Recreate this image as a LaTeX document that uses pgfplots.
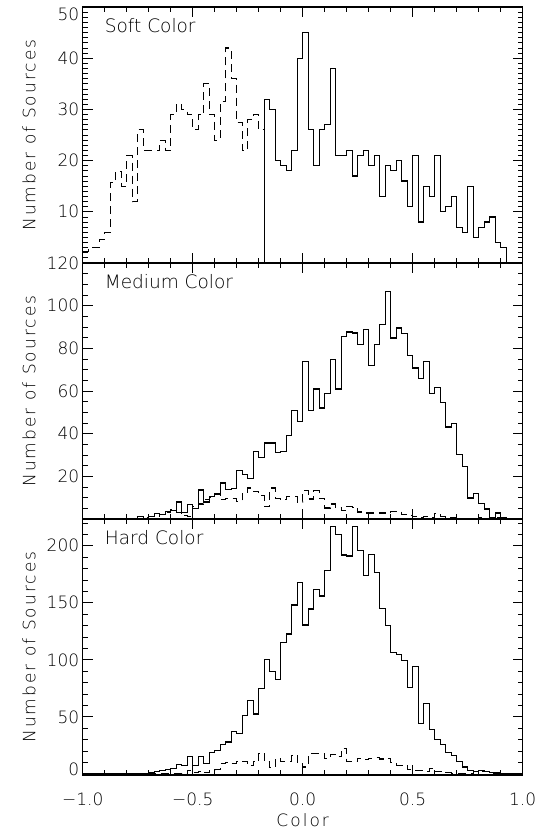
\documentclass[border=0pt]{standalone}
\usepackage{fontspec}
\setmainfont{DejaVu Sans ExtraLight}
\usepackage{pgfplots}
\usepackage{pgfplotstable}
\pgfplotsset{compat=1.18}

% medium colour: bin left edge, all sources, second sample
\pgfplotstableread{
x solid dashed
-1 0 0
-0.975 0 0
-0.95 0 0
-0.925 0 0
-0.9 0 0
-0.875 0 0
-0.85 0 0
-0.825 0 0
-0.8 0 0
-0.775 0 0
-0.75 1 0
-0.725 0 0.5
-0.7 1 1
-0.675 2.5 1
-0.65 2 2
-0.625 3.6 3
-0.6 4 4.4
-0.575 8 3
-0.55 3 1.6
-0.525 6.7 1
-0.5 5 6
-0.475 13.6 7
-0.45 8 9
-0.425 10.6 10
-0.4 11.7 11.4
-0.375 16.9 9
-0.35 13.8 9.5
-0.325 14.3 9.5
-0.3 22.7 8.3
-0.275 20.9 11.9
-0.25 18.9 14.5
-0.225 31.7 13
-0.2 29 11
-0.175 35.6 5.9
-0.15 35.6 14.5
-0.125 31 9.5
-0.1 31.8 9
-0.075 39.1 10.6
-0.05 50.8 10.6
-0.025 45.8 8
0 73.9 13.3
0.025 50.8 9.4
0.05 60.9 13.3
0.075 52 9.5
0.1 58.75 5.2
0.125 74.7 7
0.15 60.9 5.2
0.175 85.6 3.9
0.2 87.7 5.9
0.225 87.2 5.5
0.25 81.7 3.3
0.275 88.75 2.8
0.3 71.9 2.8
0.325 81.7 2.8
0.35 91.1 2.8
0.375 106.7 2.5
0.4 84.8 3.6
0.425 89.5 3.6
0.45 86.9 2
0.475 76.6 1.7
0.5 70.8 1
0.525 65.8 0.5
0.55 73.9 1
0.575 58.75 0.5
0.6 61.7 2.5
0.625 54.7 1
0.65 43.1 0.8
0.675 44.7 0.5
0.7 30.2 0
0.725 24.7 0
0.75 9.8 0
0.775 11.9 0
0.8 7.2 0.5
0.825 4.7 0
0.85 0.8 0.5
0.875 2.8 0.5
0.9 0.8 0
0.925 0 0
0.95 0 0
0.975 0 0
1 0 0
}\medtab

% hard colour
\pgfplotstableread{
x solid dashed
-1 0 0
-0.975 0 0
-0.95 0 0
-0.925 0 0
-0.9 0 0
-0.875 0 0
-0.85 0 0
-0.825 0 0
-0.8 0 0
-0.775 0 0
-0.75 0.5 0
-0.725 0.5 0
-0.7 1 0
-0.675 1.8 0
-0.65 2.6 0
-0.625 3.8 0
-0.6 4.7 0
-0.575 8 0
-0.55 7 0
-0.525 15 3
-0.5 7 1
-0.475 15 2.3
-0.45 9 1
-0.425 18.4 3.2
-0.4 20.7 4
-0.375 26 9
-0.35 28 10
-0.325 36.8 9
-0.3 35.3 10.5
-0.275 51 11
-0.25 64.5 7
-0.225 52.5 10.5
-0.2 75 18
-0.175 100 10.5
-0.15 90 5.5
-0.125 83 13.4
-0.1 115 11
-0.075 122.7 11
-0.05 148 16.3
-0.025 168 9
0 130.6 6
0.025 144.6 17.8
0.05 162 17.8
0.075 156 17.8
0.1 178 13.4
0.125 216.6 17
0.15 209.6 15
0.175 192 22
0.2 191 10.5
0.225 216.6 10.5
0.25 195.6 13.4
0.275 173.8 12.6
0.3 192.7 13.4
0.325 176.7 14
0.35 145 13
0.375 130 13.4
0.4 106.7 10
0.425 105 7.6
0.45 99.4 7
0.475 76 4
0.5 94.5 3.2
0.525 44 3.2
0.55 61.5 2.3
0.575 39 4.7
0.6 30 1.8
0.625 25.7 2.3
0.65 18.7 1
0.675 15.8 0.5
0.7 10.5 0.5
0.725 6 0.5
0.75 3.2 0.5
0.775 1.8 2
0.8 3.2 2
0.825 1.8 2
0.85 1 0
0.875 1 0
0.9 0 0
0.925 0 0
0.95 0 0
0.975 0 0
1 0 0
}\hardtab

\pgfplotsset{
  panel/.style={
    scale only axis, width=440pt, height=256pt,
    xmin=-1, xmax=1,
    xtick={-1,-0.5,0,0.5,1},
    minor x tick num=4,
    xticklabels={},
    tick align=inside,
    major tick length=10pt, minor tick length=5pt,
    every tick/.style={black, line width=0.8pt},
    axis line style={line width=1.1pt},
    tick label style={font=\fontsize{17}{17}\selectfont},
    /pgf/number format/assume math mode=true,
    ylabel={Number of Sources},
    every axis y label/.style={at={(axis description cs:-0.122,0.5)}, rotate=90, anchor=center,
      font=\fontsize{17}{17}\selectfont\addfontfeatures{LetterSpace=12}},
  },
  hsolid/.style={const plot, black, line width=1.2pt, mark=none},
  hdash/.style={const plot, black, line width=1.2pt, mark=none, dash pattern=on 8pt off 5pt},
}
\tikzset{
  ptitle/.style={anchor=north west, inner sep=0pt, xshift=22pt, yshift=-11pt,
    font=\fontsize{18.5}{18.5}\selectfont},
}

\begin{document}
\begin{tikzpicture}
\useasboundingbox (-82.7pt,-56pt) rectangle (456.3pt,775pt);

% soft colour
\begin{axis}[panel, at={(0,512pt)}, ymin=0, ymax=50,
  ytick={10,20,30,40}, minor ytick={1,2,...,49},
  extra y ticks={50}, extra y tick style={yticklabel style={yshift=-7pt}}]
\addplot[hdash] coordinates {
(-1,2.3) (-0.975,3) (-0.95,3) (-0.925,4.6) (-0.9,5.9) (-0.875,15.8) (-0.85,17.9) (-0.825,15)
(-0.8,21) (-0.775,12) (-0.75,26) (-0.725,22) (-0.7,22) (-0.675,22) (-0.65,24) (-0.625,22)
(-0.6,29) (-0.575,31) (-0.55,30) (-0.525,29) (-0.5,26) (-0.475,29) (-0.45,35) (-0.425,29)
(-0.4,24) (-0.375,31.6) (-0.35,42) (-0.325,36) (-0.3,27.4) (-0.275,22) (-0.25,28) (-0.225,29)
(-0.2,26) (-0.175,0)};
\addplot[hsolid] coordinates {
(-0.175,0) (-0.175,32) (-0.15,30) (-0.125,20) (-0.1,19) (-0.075,18) (-0.05,22) (-0.025,40)
(0,45) (0.025,26) (0.05,19) (0.075,26) (0.1,27) (0.125,38) (0.15,21) (0.175,21)
(0.2,22) (0.225,17) (0.25,21) (0.275,22) (0.3,19) (0.325,21) (0.35,13) (0.375,19)
(0.4,18) (0.425,20) (0.45,16) (0.475,11) (0.5,21) (0.525,8) (0.55,15) (0.575,13)
(0.6,21) (0.625,10) (0.65,11) (0.675,13) (0.7,7) (0.725,6) (0.75,15) (0.775,5)
(0.8,7) (0.825,8) (0.85,9) (0.875,4) (0.9,3) (0.925,0)};
\node[ptitle] at (rel axis cs:0,1) {Soft Color};
\end{axis}

% medium colour
\begin{axis}[panel, at={(0,256pt)}, ymin=0, ymax=120,
  ytick={20,40,60,80,100,120}, minor ytick={5,10,...,115}]
\addplot[hdash] table[x=x, y=dashed] {\medtab};
\addplot[hsolid] table[x=x, y=solid] {\medtab};
\node[ptitle] at (rel axis cs:0,1) {Medium Color};
\end{axis}

% hard colour
\begin{axis}[panel, at={(0,0)}, ymin=-1, ymax=223.5,
  ytick={50,100,150,200}, minor ytick={10,20,...,220},
  extra y ticks={0}, extra y tick style={yticklabel style={yshift=5pt}},
  xticklabels={−1.0,−0.5,0.0,0.5,1.0},
  xticklabel style={yshift=-14pt},
  xlabel={Color},
  every axis x label/.style={at={(axis description cs:0.5,-0.175)}, anchor=center,
    font=\fontsize{17}{17}\selectfont\addfontfeatures{LetterSpace=12}}]
\addplot[hdash] table[x=x, y=dashed] {\hardtab};
\addplot[hsolid] table[x=x, y=solid] {\hardtab};
\node[ptitle] at (rel axis cs:0,1) {Hard Color};
\end{axis}
\end{tikzpicture}
\end{document}
